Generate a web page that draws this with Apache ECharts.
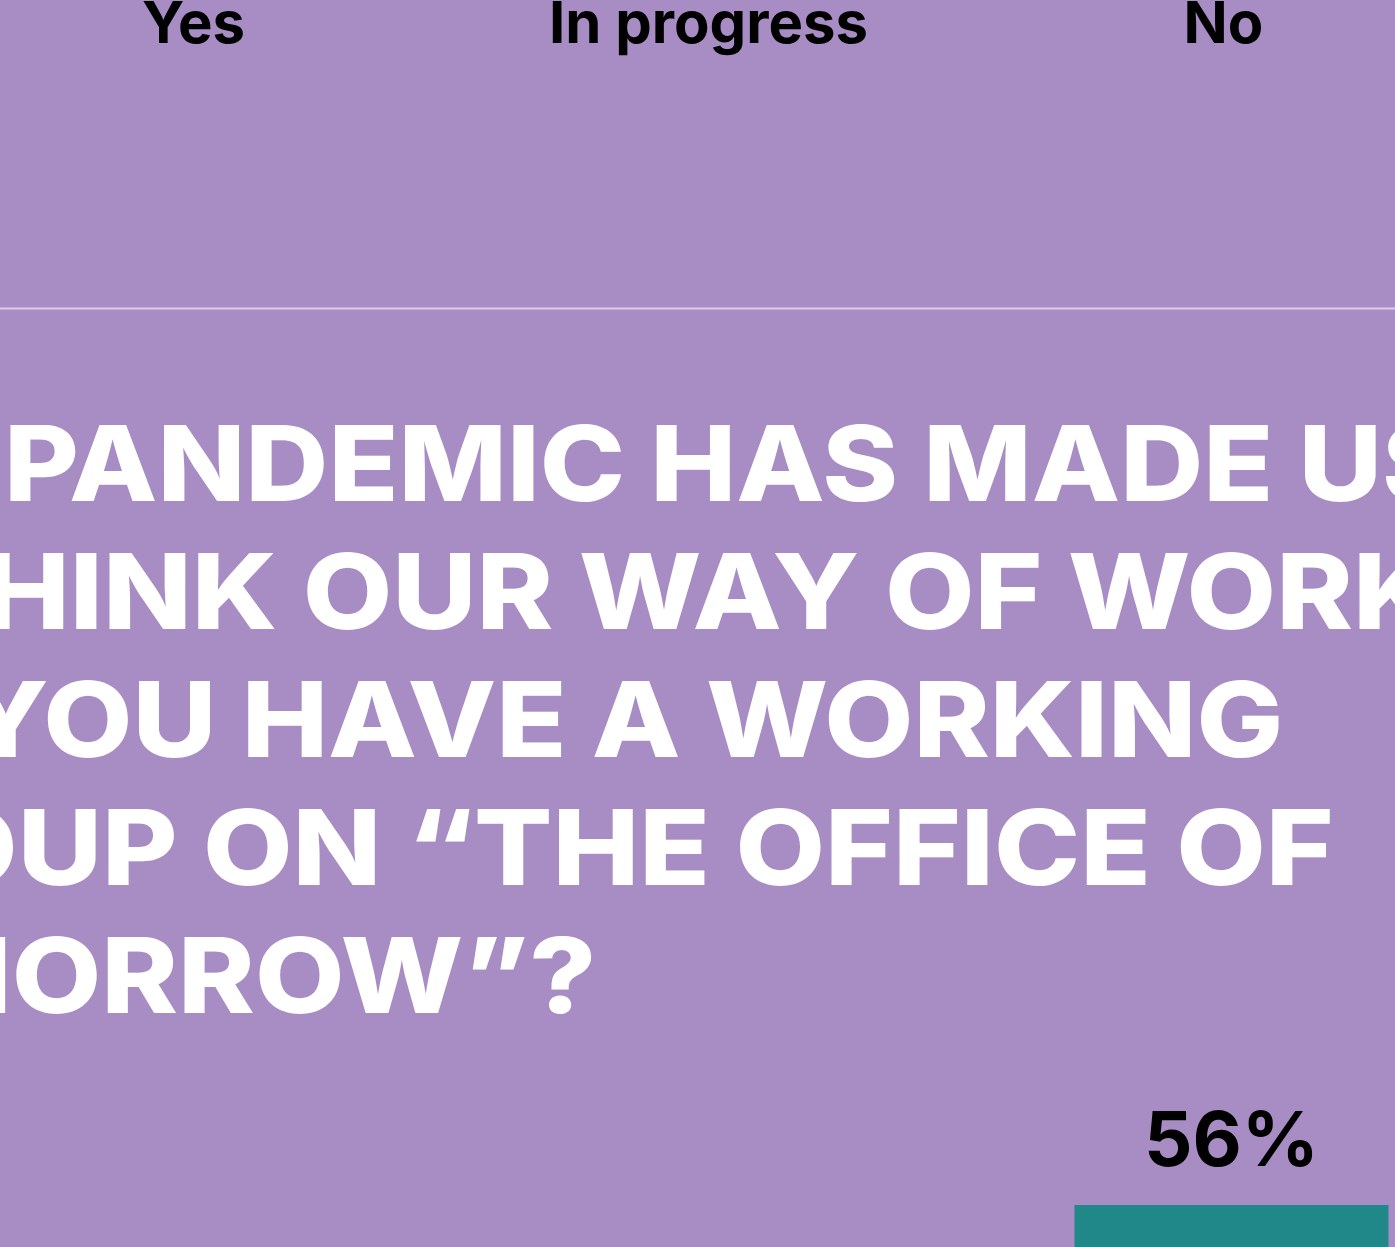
<!DOCTYPE html>
<html><head><meta charset="utf-8">
<script src="https://cdn.jsdelivr.net/npm/echarts@6/dist/echarts.min.js"></script>
<style>html,body{margin:0;padding:0;background:#A88DC4;}#c{width:1395px;height:1247px;}</style>
</head><body><div id="c"></div>
<script>
// Category labels (shared by the cropped chart above and the chart below)
const categories = ['Yes', 'In progress', 'No'];
// Values of the lower chart; only the "No" bar reaches into the visible crop
const values = [null, null, 56];
const titleLines = [
  'THE PANDEMIC HAS MADE US',
  'RETHINK OUR WAY OF WORKING.',
  'DO YOU HAVE A WORKING',
  'GROUP ON \u201CTHE OFFICE OF',
  'TOMORROW\u201D?'
];

const lineX = [-255, -243, -236, -236, -262];
const lineScale = [1.105, 1.115, 1.11, 1.115, 1.115];
const chart = echarts.init(document.getElementById('c'));
const FONT = 'Inter';
chart.setOption({
  backgroundColor: '#A88DC4',
  animation: false,
  grid: [
    { left: -64, width: 1545, top: 60, height: 10, outerBoundsMode: 'none', containLabel: false },
    { left: -56, width: 1545, top: 985, height: 500, outerBoundsMode: 'none', containLabel: false }
  ],
  xAxis: [
    { gridIndex: 0, type: 'category', data: categories, position: 'top',
      axisLine: { show: false }, axisTick: { show: false },
      axisLabel: { margin: 5, color: '#000', fontSize: 58, fontWeight: 700, fontFamily: FONT } },
    { gridIndex: 1, type: 'category', data: categories, show: false }
  ],
  yAxis: [
    { gridIndex: 0, type: 'value', show: false },
    { gridIndex: 1, type: 'value', min: 0, max: 100, show: false }
  ],
  series: [{
    type: 'bar', xAxisIndex: 1, yAxisIndex: 1, data: values, barWidth: 314,
    itemStyle: { color: '#21888A' },
    label: { show: true, position: 'top', distance: 24, formatter: '{c}%',
      color: '#000', fontSize: 76, fontWeight: 700, fontFamily: FONT }
  }],
  graphic: [
    { type: 'line', shape: { x1: 0, y1: 308.5, x2: 1395, y2: 308.5 },
      style: { stroke: '#D9CDE6', lineWidth: 2 } }
  ].concat(titleLines.map((t, i) => ({
    type: 'text', x: lineX[i], y: 406 + i * 128, scaleX: lineScale[i], scaleY: 1,
    style: { text: t, x: 0, y: 0, fill: '#fff',
      font: '800 104px Inter', lineHeight: 128, verticalAlign: 'top', align: 'left' }
  })))
});
</script></body></html>
